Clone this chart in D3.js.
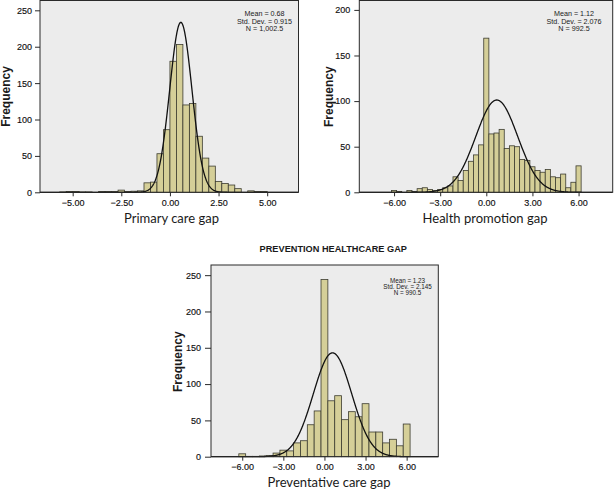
<!DOCTYPE html>
<html><head><meta charset="utf-8">
<script src="https://cdn.jsdelivr.net/npm/d3@7"></script>
<style>body{margin:0;background:#fff}svg{display:block}</style>
</head><body><svg id="c" width="614" height="490"></svg>
<script>
// ---------- DATA ----------
// Panel 1: Primary care gap (bin width 1/3, bin centres)
const p1BinWidth = 1/3;
const p1Centers = [-5.5,-5.167,-4.833,-4.5,-4.167,-3.833,-3.5,-3.167,-2.833,-2.5,-2.167,-1.833,-1.5,-1.167,-0.833,-0.5,-0.167,0.167,0.5,0.833,1.167,1.5,1.833,2.167,2.5,2.833,3.167,3.5,3.833,4.167,4.5,4.833];
const p1Counts  = [0.5,1,1,0.5,0.5,0,1,1,1,3,1,1.5,2,13,14,53,86,180,203,120,122,77,47,36,15,12,10,5,0,2,1,1];
const p1XTicks = [-5,-2.5,0,2.5,5];
const p1XTickLabels = ["\u22125.00","\u22122.50","0.00","2.50","5.00"];
const p1YTicks = [0,50,100,150,200,250];
const p1Curve = {mean:0.56, sd:0.57, peak:233.5};
const p1Stats = ["Mean = 0.68","Std. Dev. = 0.915","N = 1,002.5"];
const p1XTitle = "Primary care gap";

// Panel 2: Health promotion gap (bin width 1/3, bin centres)
const p2BinWidth = 1/3;
const p2Centers = [-6,-5.667,-5.333,-5,-4.667,-4.333,-4,-3.667,-3.333,-3,-2.667,-2.333,-2,-1.667,-1.333,-1,-0.667,-0.333,0,0.333,0.667,1,1.333,1.667,2,2.333,2.667,3,3.333,3.667,4,4.333,4.667,5,5.333,5.667,6];
const p2Counts  = [2,1,0,2,1,4,5,3,2,3,5,7,17,13,24,34,41,52,169,64,65,69,48,51,50,36,35,28,24,22,25,17,16,20,5,11,29];
const p2XTicks = [-6,-3,0,3,6];
const p2XTickLabels = ["\u22126.00","\u22123.00","0.00","3.00","6.00"];
const p2YTicks = [0,50,100,150,200];
const p2Curve = {mean:0.68, sd:1.36, peak:101.2};
const p2Stats = ["Mean = 1.12","Std. Dev. = 2.076","N = 992.5"];
const p2XTitle = "Health promotion gap";

// Panel 3: Preventative care gap (bin width 0.5, bin centres)
const p3BinWidth = 0.5;
const p3Centers = [-6,-5.5,-5,-4.5,-4,-3.5,-3,-2.5,-2,-1.5,-1,-0.5,0,0.5,1,1.5,2,2.5,3,3.5,4,4.5,5,5.5,6];
const p3Counts  = [4,0.5,0.5,1,1.5,5,9,8,19,22,44,63,244,77,84,51,62,55,73,34,34,19,24,15,45];
const p3XTicks = [-6,-3,0,3,6];
const p3XTickLabels = ["\u22126.00","\u22123.00","0.00","3.00","6.00"];
const p3YTicks = [0,50,100,150,200,250];
const p3Curve = {mean:0.59, sd:1.4, peak:143};
const p3Stats = ["Mean = 1.23","Std. Dev. = 2.145","N = 990.5"];
const p3XTitle = "Preventative care gap";
const chartTitle = "PREVENTION HEALTHCARE GAP";
const yTitle = "Frequency";

// ---------- DRAW ----------
const svg = d3.select("#c");
const TICKFONT = "'Liberation Sans', Arial, sans-serif";
const TITLEFONT = "Lato, 'Open Sans', sans-serif";

const panels = [
  {centers:p1Centers, counts:p1Counts, bw:p1BinWidth, xTicks:p1XTicks, xLabels:p1XTickLabels, yTicks:p1YTicks,
   curve:p1Curve, stats:p1Stats, xTitle:p1XTitle,
   fx0:40, fx1:298.5, fy0:0.5, fy1:192.3, xDom:[-6.68,6.61], yDom:[0,263.5],
   ytick:5, ypad:3, statX:264.5, statY:16, statDy:7.6, statSize:7.2, titleX:171.5, titleY:222.7, freqX:10, freqY:96.5},
  {centers:p2Centers, counts:p2Counts, bw:p2BinWidth, xTicks:p2XTicks, xLabels:p2XTickLabels, yTicks:p2YTicks,
   curve:p2Curve, stats:p2Stats, xTitle:p2XTitle,
   fx0:359.3, fx1:612.7, fy0:0.5, fy1:192.3, xDom:[-8.26,8.22], yDom:[0,210.3],
   ytick:5, ypad:4, statX:574, statY:16, statDy:7.6, statSize:7.2, titleX:485, titleY:222.7, freqX:332.5, freqY:96.7},
  {centers:p3Centers, counts:p3Counts, bw:p3BinWidth, xTicks:p3XTicks, xLabels:p3XTickLabels, yTicks:p3YTicks,
   curve:p3Curve, stats:p3Stats, xTitle:p3XTitle,
   fx0:211, fx1:438.3, fy0:265, fy1:456.7, xDom:[-8.28,8.31], yDom:[0,264],
   ytick:6, ypad:4, statX:407.5, statY:282.7, statDy:5.9, statSize:6.3, titleX:329, titleY:487, freqX:182.3, freqY:361.7}
];

panels.forEach(p => {
  const x = d3.scaleLinear().domain(p.xDom).range([p.fx0, p.fx1]);
  const y = d3.scaleLinear().domain(p.yDom).range([p.fy1, p.fy0]);
  const g = svg.append("g");

  g.append("rect").attr("x", p.fx0).attr("y", p.fy0)
    .attr("width", p.fx1 - p.fx0).attr("height", p.fy1 - p.fy0)
    .attr("fill", "#ececec");

  const bins = p.centers.map((c,i) => ({c, n:p.counts[i]})).filter(d => d.n > 0);
  g.selectAll("rect.bar").data(bins).join("rect").attr("class","bar")
    .attr("x", d => x(d.c - p.bw/2))
    .attr("width", d => x(d.c + p.bw/2) - x(d.c - p.bw/2))
    .attr("y", d => y(d.n))
    .attr("height", d => y(0) - y(d.n))
    .attr("fill", "#d5cf98")
    .attr("stroke", "#3c3c30")
    .attr("stroke-width", 0.8);

  // fitted normal curve
  const pts = d3.range(p.xDom[0], p.xDom[1], 0.02).map(v => [v, p.curve.peak * Math.exp(-0.5 * Math.pow((v - p.curve.mean)/p.curve.sd, 2))]);
  g.append("path").datum(pts)
    .attr("d", d3.line().x(d => x(d[0])).y(d => y(d[1])))
    .attr("fill", "none").attr("stroke", "#111").attr("stroke-width", 1.3);

  // frame
  g.append("rect").attr("x", p.fx0).attr("y", p.fy0)
    .attr("width", p.fx1 - p.fx0).attr("height", p.fy1 - p.fy0)
    .attr("fill", "none").attr("stroke", "#2a2a2a").attr("stroke-width", 1);

  // axes
  const ax = g.append("g").attr("transform", `translate(0,${p.fy1})`)
    .call(d3.axisBottom(x).tickValues(p.xTicks).tickSize(4).tickPadding(3)
      .tickFormat((d,i) => p.xLabels[i]));
  const ay = g.append("g").attr("transform", `translate(${p.fx0},0)`)
    .call(d3.axisLeft(y).tickValues(p.yTicks).tickSize(p.ytick).tickPadding(p.ypad).tickFormat(d3.format("d")));
  [ax, ay].forEach(a => {
    a.select(".domain").remove();
    a.selectAll("line").attr("stroke", "#2a2a2a");
    a.selectAll("text").attr("font-family", TICKFONT).attr("font-size", 9).attr("fill", "#111")
      .attr("stroke", "#111").attr("stroke-width", 0.15);
  });

  // stats box text
  p.stats.forEach((s,i) => {
    g.append("text").attr("x", p.statX).attr("y", p.statY + i*p.statDy)
      .attr("text-anchor", "middle").attr("font-family", TICKFONT)
      .attr("font-size", p.statSize).attr("fill", "#1a1a1a").text(s);
  });

  // x title
  g.append("text").attr("x", p.titleX).attr("y", p.titleY).attr("text-anchor","middle")
    .attr("font-family", TITLEFONT).attr("font-size", 13).attr("fill", "#1a1a1a").text(p.xTitle);

  // y title
  g.append("text").attr("transform", `translate(${p.freqX},${p.freqY}) rotate(-90)`)
    .attr("text-anchor","middle").attr("font-family", TICKFONT).attr("font-weight","bold")
    .attr("font-size", 12).attr("fill", "#1a1a1a").text(yTitle);
});

svg.append("text").attr("x", 333.3).attr("y", 251.7).attr("text-anchor","middle")
  .attr("font-family", TICKFONT).attr("font-weight","bold").attr("font-size", 9.2)
  .attr("fill", "#1a1a1a").text(chartTitle);
</script></body></html>
